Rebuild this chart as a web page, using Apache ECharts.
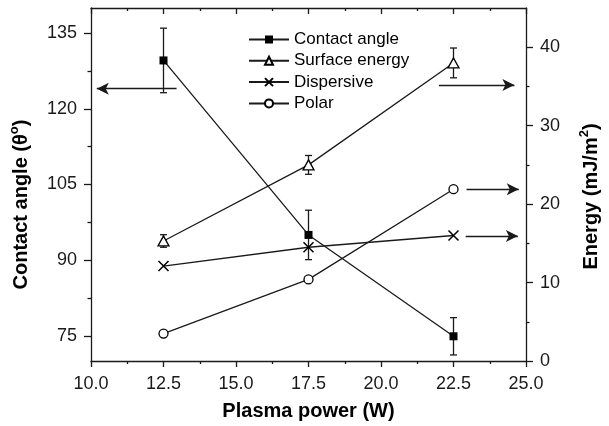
<!DOCTYPE html>
<html>
<head>
<meta charset="utf-8">
<script src="https://cdn.jsdelivr.net/npm/echarts@6/dist/echarts.min.js"></script>
<style>html,body{margin:0;padding:0;background:#fff;}#c{width:609px;height:426px;}</style>
</head>
<body>
<div id="c"></div>
<script>
// ---- data ----
const plasmaPower = [12.5, 17.5, 22.5];
const contactAngle = [129.6, 95.0, 74.9];
const contactAngleErr = [6.4, 4.9, 3.7];
const surfaceEnergy = [15.3, 25.0, 38.0];
const surfaceEnergyErr = [0.8, 1.2, 1.9];
const dispersive = [12.1, 14.5, 16.0];
const polar = [3.5, 10.4, 21.9];
const xTicks = [10, 12.5, 15, 17.5, 20, 22.5, 25];
const leftMajor = [75, 90, 105, 120, 135];
const leftMinor = [82.5, 97.5, 112.5, 127.5];
const rightMajor = [0, 10, 20, 30, 40];
const rightMinor = [5, 15, 25, 35];
// arrows: [xStart, xEnd, y]
const leftArrow = [12.95, 10.2, 124.0];
const rightArrows = [[22.0, 24.6, 35.2], [22.95, 24.75, 21.9], [22.92, 24.72, 15.95]];

const FONT = 'Liberation Sans, Arial, sans-serif';
const INK = '#1a1a1a';

function zip(xs, ys) { return xs.map((x, i) => [x, ys[i]]); }
function errData(xs, ys, es) { return xs.map((x, i) => [x, ys[i] - es[i], ys[i] + es[i]]); }

function errRender(params, api) {
  const x = api.value(0);
  const lo = api.coord([x, api.value(1)]);
  const hi = api.coord([x, api.value(2)]);
  const w = 3.5;
  const st = { stroke: INK, lineWidth: 1.3 };
  return {
    type: 'group',
    children: [
      { type: 'line', shape: { x1: lo[0], y1: lo[1], x2: hi[0], y2: hi[1] }, style: st },
      { type: 'line', shape: { x1: lo[0] - w, y1: lo[1], x2: lo[0] + w, y2: lo[1] }, style: st },
      { type: 'line', shape: { x1: hi[0] - w, y1: hi[1], x2: hi[0] + w, y2: hi[1] }, style: st }
    ]
  };
}

const axisLine = { show: true, onZero: false, lineStyle: { color: INK, width: 1.3 } };
const labelStyle = { color: INK, fontSize: 18, fontFamily: FONT };
const nameStyleBase = { color: '#000', fontFamily: FONT, fontWeight: 'bold', fontSize: 20 };

const arrowLine = {
  silent: true,
  symbol: ['none', 'arrow'],
  symbolSize: [9, 12],
  label: { show: false },
  emphasis: { disabled: true },
  lineStyle: { color: INK, width: 1.3, type: 'solid' },
  animation: false
};

const chart = echarts.init(document.getElementById('c'), null, { renderer: 'canvas' });
chart.setOption({
  animation: false,
  backgroundColor: '#fff',
  grid: { left: 91, right: 76, top: 8, bottom: 65, containLabel: false },
  legend: {
    orient: 'vertical',
    left: 243,
    top: 26,
    itemWidth: 40,
    itemHeight: 10,
    itemGap: 4.3,
    textStyle: { color: '#000', fontSize: 17, fontFamily: FONT, lineHeight: 17 },
    data: ['Contact angle', 'Surface energy', 'Dispersive', 'Polar']
  },
  xAxis: [
    {
      type: 'value', position: 'bottom', min: 10, max: 25, interval: 2.5,
      axisLine: axisLine,
      axisTick: { show: true, length: 6, lineStyle: { color: INK, width: 1.3 } },
      minorTick: { show: true, splitNumber: 2, length: 3, lineStyle: { color: INK, width: 1.3 } },
      axisLabel: Object.assign({ margin: 14, formatter: v => v.toFixed(1) }, labelStyle),
      splitLine: { show: false },
      name: 'Plasma power (W)', nameLocation: 'middle', nameGap: 40,
      nameTextStyle: nameStyleBase
    },
    {
      type: 'value', position: 'top', min: 10, max: 25, interval: 2.5,
      axisLine: axisLine,
      axisTick: { show: true, inside: true, length: 6, lineStyle: { color: INK, width: 1.3 } },
      minorTick: { show: true, splitNumber: 2, length: 3, lineStyle: { color: INK, width: 1.3 } },
      axisLabel: { show: false },
      splitLine: { show: false }
    }
  ],
  yAxis: [
    {
      type: 'value', position: 'left', min: 70, max: 140,
      axisLine: axisLine,
      axisTick: { show: true, length: 7, customValues: leftMajor, lineStyle: { color: INK, width: 1.3 } },
      axisLabel: Object.assign({ margin: 14, customValues: leftMajor }, labelStyle),
      splitLine: { show: false },
      name: '{a|Contact angle (θ}{s|o}{a|)}', nameLocation: 'middle', nameGap: 57,
      nameTextStyle: Object.assign({}, nameStyleBase, {
        padding: [0, 40, 0, 0],
        rich: {
          a: { fontSize: 20, fontWeight: 'bold', fontFamily: FONT, color: '#000', lineHeight: 26 },
          s: { fontSize: 13, fontWeight: 'bold', fontFamily: FONT, color: '#000', verticalAlign: 'top', lineHeight: 16 }
        }
      })
    },
    {
      type: 'value', position: 'right', min: 0, max: 45,
      axisLine: axisLine,
      axisTick: { show: true, length: 7, customValues: rightMajor, lineStyle: { color: INK, width: 1.3 } },
      axisLabel: Object.assign({ margin: 14, customValues: rightMajor }, labelStyle),
      splitLine: { show: false },
      name: '{a|Energy (mJ/m}{s|2}{a|)}', nameLocation: 'middle', nameGap: 52,
      nameTextStyle: Object.assign({}, nameStyleBase, {
        padding: [0, 24, 0, 0],
        rich: {
          a: { fontSize: 20, fontWeight: 'bold', fontFamily: FONT, color: '#000', lineHeight: 26 },
          s: { fontSize: 13, fontWeight: 'bold', fontFamily: FONT, color: '#000', verticalAlign: 'top', lineHeight: 16 }
        }
      })
    },
    {
      type: 'value', position: 'left', min: 70, max: 140,
      axisLine: { show: false },
      axisTick: { show: true, length: 3.5, customValues: leftMinor, lineStyle: { color: INK, width: 1.3 } },
      axisLabel: { show: false },
      splitLine: { show: false }
    },
    {
      type: 'value', position: 'right', min: 0, max: 45,
      axisLine: { show: false },
      axisTick: { show: true, length: 3.5, customValues: rightMinor, lineStyle: { color: INK, width: 1.3 } },
      axisLabel: { show: false },
      splitLine: { show: false }
    }
  ],
  series: [
    {
      type: 'custom', name: 'caErr', yAxisIndex: 0, renderItem: errRender,
      data: errData(plasmaPower, contactAngle, contactAngleErr), z: 1, silent: true
    },
    {
      type: 'custom', name: 'seErr', yAxisIndex: 1, renderItem: errRender,
      data: errData(plasmaPower, surfaceEnergy, surfaceEnergyErr), z: 1, silent: true
    },
    {
      name: 'Contact angle', type: 'line', yAxisIndex: 0,
      data: zip(plasmaPower, contactAngle),
      symbol: 'rect', symbolSize: 8,
      itemStyle: { color: '#000' },
      lineStyle: { color: INK, width: 1.3 },
      z: 3,
      markLine: Object.assign({ data: [[{ coord: [leftArrow[0], leftArrow[2]] }, { coord: [leftArrow[1], leftArrow[2]] }]] }, arrowLine)
    },
    {
      name: 'Surface energy', type: 'line', yAxisIndex: 1,
      data: zip(plasmaPower, surfaceEnergy),
      symbol: 'triangle', symbolSize: [11, 10],
      itemStyle: { color: '#fff', borderColor: '#000', borderWidth: 1.3 },
      lineStyle: { color: INK, width: 1.3 },
      z: 3
    },
    {
      name: 'Dispersive', type: 'line', yAxisIndex: 1,
      data: zip(plasmaPower, dispersive),
      symbol: 'path://M0,0L10,10M10,0L0,10', symbolSize: 10,
      itemStyle: { color: '#000', borderColor: '#000', borderWidth: 1.5 },
      lineStyle: { color: INK, width: 1.3 },
      z: 3
    },
    {
      name: 'Polar', type: 'line', yAxisIndex: 1,
      data: zip(plasmaPower, polar),
      symbol: 'circle', symbolSize: 9,
      itemStyle: { color: '#fff', borderColor: '#000', borderWidth: 1.3 },
      lineStyle: { color: INK, width: 1.3 },
      z: 3,
      markLine: Object.assign({
        data: rightArrows.map(a => [{ coord: [a[0], a[2]] }, { coord: [a[1], a[2]] }])
      }, arrowLine)
    }
  ]
});
</script>
</body>
</html>
